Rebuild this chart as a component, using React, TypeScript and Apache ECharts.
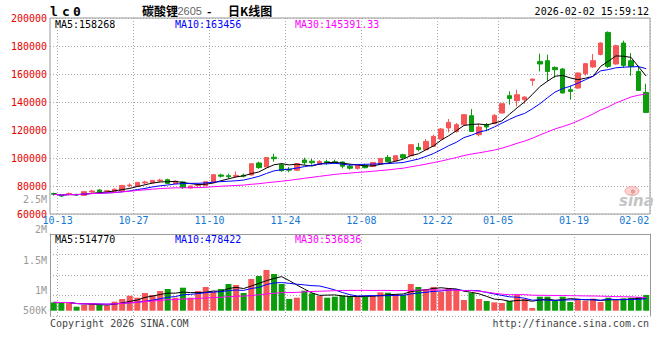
import React, { useEffect, useRef } from 'react';
import * as echarts from 'echarts';

// ---------- data ----------
const dates = ['10-13','10-14','10-15','10-16','10-17','10-20','10-21','10-22','10-23','10-24','10-27','10-28','10-29','10-30','10-31','11-03','11-04','11-05','11-06','11-07','11-10','11-11','11-12','11-13','11-14','11-17','11-18','11-19','11-20','11-21','11-24','11-25','11-26','11-27','11-28','12-01','12-02','12-03','12-04','12-05','12-08','12-09','12-10','12-11','12-12','12-15','12-16','12-17','12-18','12-19','12-22','12-23','12-24','12-25','12-26','12-29','12-30','12-31','01-05','01-06','01-07','01-08','01-09','01-12','01-13','01-14','01-15','01-16','01-19','01-20','01-21','01-22','01-23','01-26','01-27','01-28','01-29','01-30','02-02'];

const opens = [74640,73160,74140,74000,73290,75710,77140,76140,76140,76430,80210,79710,82210,82140,83640,84500,81640,82860,78570,80210,80210,82360,87860,87360,86860,87710,87860,96430,93570,100570,95210,92000,91290,98570,97710,95430,97360,97360,97140,94140,92570,94860,94000,95710,100430,97860,102360,101640,107570,105930,108290,113570,121430,119000,123790,130210,116640,123790,124500,132140,144500,140930,141640,155430,169000,169500,164710,163570,148790,150000,160210,165000,174000,189710,167140,182140,169500,161860,146860];
const closes = [74140,72870,74640,73570,75930,76430,75930,76640,77710,80430,80710,82570,82860,84000,84210,81860,83430,79000,80000,80710,83070,88070,87000,86640,87570,87000,95930,93070,100430,99500,90930,91290,95930,96640,96640,97570,96640,96790,94140,92710,95000,93070,96860,99710,97360,101640,100210,109500,106140,111860,115430,120710,125430,123790,130930,119000,122140,122140,130430,138790,142570,145210,143570,156430,167140,161860,163070,146430,147570,160710,167360,169500,182140,165430,180210,166140,165430,148290,132570];
const lows = [73070,72140,73290,73070,73070,75000,75570,75930,75930,76290,79000,79500,81140,81860,82570,81430,81430,77860,78290,79290,80000,82140,85930,85210,86140,86140,87570,92360,93430,97360,90210,89860,90710,95000,95210,95000,95210,95710,92570,91640,91640,92570,93570,95570,97140,97570,99290,101430,104710,105710,108070,113430,118290,118070,123430,118790,115430,119000,124140,131860,138070,136860,138790,151640,161860,154710,157360,146290,141640,149290,158790,164500,173290,164290,166640,164290,158790,148070,132360];
const highs = [75210,73450,75430,74500,76140,77360,77710,76860,78290,80710,81860,82860,83790,84290,85210,85210,84000,83570,80210,81860,83290,88290,88790,88790,90430,88790,96140,97360,100710,103070,96290,93570,96140,100210,99500,98430,98790,98790,97570,95210,95710,95930,97140,100000,102140,101860,103070,109710,110710,113570,116640,121430,127860,125000,131290,135000,124500,125000,131290,139140,147570,148790,144000,156430,174500,173790,165430,164290,151640,161140,167710,174290,182570,190430,180930,183790,175000,165930,153070];
const volumes = [333000,320000,333000,160000,227000,293000,227000,200000,360000,467000,600000,520000,707000,627000,787000,867000,520000,920000,520000,787000,947000,760000,867000,1067000,1027000,707000,1267000,1387000,1627000,1467000,1067000,467000,520000,800000,693000,587000,520000,560000,600000,560000,587000,560000,587000,733000,720000,667000,627000,1067000,947000,867000,947000,760000,907000,867000,427000,707000,467000,387000,333000,307000,387000,627000,467000,107000,560000,560000,387000,560000,347000,467000,387000,480000,347000,520000,413000,493000,520000,547000,627000];

const xLabelDates = ['10-13','10-27','11-10','11-24','12-08','12-22','01-05','01-19','02-02'];
const priceTicks = { min: 60000, max: 200000, step: 20000 };
const volLabelTicks = { min: 500000, max: 2500000, step: 500000 };

const titleName = '碳酸锂';
const titleCode = '2605';
const titleTail = '日K线图';
const symbolText = ['l', 'c', '0'];
const timeText = '2026-02-02 15:59:12';
const priceMaTexts = ['MA5:158268', 'MA10:163456', 'MA30:145391.33'];
const volMaTexts = ['MA5:514770', 'MA10:478422', 'MA30:536836'];
const copyrightText = 'Copyright 2026 SINA.COM';
const urlText = 'http://finance.sina.com.cn';

// ---------- style ----------
const RED = '#f65656';
const GREEN = '#0c9c0c';
const MA_COLORS = ['#000000', '#0000ff', '#ff00ff'];
const GRID_LINE = '#aaaaaa';
const BORDER = '#999999';
const MONO = '"DejaVu Sans Mono", "Liberation Mono", monospace';
const CJK = '"Noto Sans CJK SC", sans-serif';

function movingAvg(arr: number[], n: number): number[] {
  return arr.map((_, i) => {
    const s = Math.max(0, i - n + 1);
    let sum = 0;
    for (let k = s; k <= i; k++) sum += arr[k];
    return Math.round((sum / (i - s + 1)) * 100) / 100;
  });
}

export default function App() {
  const ref = useRef<HTMLDivElement>(null);

  useEffect(() => {
    document.body.style.margin = '0';
    if (!ref.current) return;
    const chart = echarts.init(ref.current, null, { renderer: 'svg' });

    const labelIdx = new Set(xLabelDates.map((d) => dates.indexOf(d)));
    const lastIdx = dates.length - 1;
    const kData = dates.map((_, i) => [opens[i], closes[i], lows[i], highs[i]]);
    const volData = volumes.map((v, i) => ({
      value: v,
      itemStyle: { color: closes[i] >= opens[i] ? RED : GREEN },
    }));
    const periods = [5, 10, 30];
    const dotted = { color: GRID_LINE, type: [1, 2] as any, width: 1 };

    const txt = (x: number, y: number, text: string, fill: string, font: string, align = 'left') => ({
      type: 'text',
      x,
      y,
      z: 100,
      style: { text, fill, font, align, verticalAlign: 'middle' },
    });

    const option: any = {
      animation: false,
      backgroundColor: '#ffffff',
      grid: [
        { left: 50, top: 18, width: 600, height: 196, show: true, borderColor: BORDER, borderWidth: 1, backgroundColor: 'transparent' },
        { left: 50, top: 234, width: 600, height: 82 },
        { left: 50, top: 199.5, width: 600, height: 121.4 },
      ],
      xAxis: [
        {
          type: 'category',
          gridIndex: 0,
          data: dates,
          boundaryGap: true,
          axisLine: { show: false },
          axisTick: { show: false },
          splitLine: { show: true, interval: (i: number) => labelIdx.has(i - 1), lineStyle: dotted },
          axisLabel: {
            interval: (i: number) => labelIdx.has(i),
            margin: 1,
            formatter: (v: string, i: number) => (i === lastIdx ? `{r|${v}}` : `{n|${v}}`),
            rich: {
              n: { padding: [0, 0, 0, 7.6], fontFamily: MONO, fontSize: 10, color: '#1478d2' },
              r: { padding: [0, 24, 0, 0], fontFamily: MONO, fontSize: 10, color: '#1478d2' },
            },
          },
        },
        {
          type: 'category',
          gridIndex: 1,
          data: dates,
          boundaryGap: true,
          position: 'top',
          axisLine: { show: true, onZero: false, lineStyle: { color: BORDER, width: 1 } },
          axisTick: { show: false },
          axisLabel: { show: false },
          splitLine: { show: true, interval: (i: number) => labelIdx.has(i - 1), lineStyle: dotted },
        },
        { type: 'value', gridIndex: 2, min: 0, max: 1, show: false },
      ],
      yAxis: [
        {
          type: 'value',
          gridIndex: 0,
          min: priceTicks.min,
          max: priceTicks.max,
          interval: priceTicks.step,
          axisLine: { show: false },
          axisTick: { show: false },
          splitLine: { show: true, lineStyle: dotted },
          axisLabel: {
            showMinLabel: true,
            showMaxLabel: true,
            margin: 3,
            padding: [0, 0, 5, 0],
            color: '#e60000',
            fontFamily: MONO,
            fontSize: 10,
            formatter: (v: number) => String(v),
          },
        },
        {
          type: 'value',
          gridIndex: 1,
          min: -212000,
          max: 3068000,
          axisLine: { show: true, onZero: false, lineStyle: { color: BORDER, width: 1 } },
          axisTick: { show: false },
          axisLabel: { show: false },
          splitLine: { show: false },
        },
        {
          type: 'value',
          gridIndex: 1,
          position: 'right',
          inverse: true,
          min: 0,
          max: 4,
          interval: 1,
          axisLine: { show: true, onZero: false, lineStyle: { color: BORDER, width: 1 } },
          axisTick: { show: false },
          axisLabel: { show: false },
          splitLine: { show: true, lineStyle: dotted },
        },
        {
          type: 'value',
          gridIndex: 2,
          min: volLabelTicks.min,
          max: volLabelTicks.max,
          interval: volLabelTicks.step,
          axisLine: { show: false },
          axisTick: { show: false },
          splitLine: { show: false },
          axisLabel: {
            showMinLabel: true,
            showMaxLabel: true,
            margin: 3,
            formatter: (v: number) => (v >= 1e6 ? `{a|${v / 1e6}M}` : `{b|${v / 1000}K}`),
            rich: {
              a: { fontFamily: MONO, fontSize: 10, color: '#9a9a9a' },
              b: { fontFamily: MONO, fontSize: 10, color: '#9a9a9a', padding: [0, 0, 20, 0] },
            },
          },
        },
      ],
      series: [
        {
          type: 'candlestick',
          xAxisIndex: 0,
          yAxisIndex: 0,
          data: kData,
          barWidth: 5,
          itemStyle: { color: RED, color0: GREEN, borderColor: RED, borderColor0: GREEN, borderWidth: 1 },
        },
        ...periods.map((p, k) => ({
          type: 'line',
          xAxisIndex: 0,
          yAxisIndex: 0,
          data: movingAvg(closes, p),
          showSymbol: false,
          smooth: false,
          lineStyle: { color: MA_COLORS[k], width: 1 },
          z: 3,
        })),
        {
          type: 'bar',
          xAxisIndex: 1,
          yAxisIndex: 1,
          data: volData,
          barWidth: 6,
        },
        ...periods.map((p, k) => ({
          type: 'line',
          xAxisIndex: 1,
          yAxisIndex: 1,
          data: movingAvg(volumes, p),
          showSymbol: false,
          smooth: false,
          lineStyle: { color: MA_COLORS[k], width: 1 },
          z: 3,
        })),
      ],
      graphic: [
        txt(50, 11, symbolText[0], '#000', `bold 13px ${MONO}`),
        txt(62, 11, symbolText[1], '#000', `bold 13px ${MONO}`),
        txt(73, 11, symbolText[2], '#000', `bold 13px ${MONO}`),
        txt(142, 10.5, titleName, '#000', `bold 12px ${CJK}`),
        txt(177.5, 11, titleCode, '#666', '11px "Liberation Sans", sans-serif'),
        txt(207, 10.5, '-', '#000', `bold 12px ${CJK}`),
        txt(228, 10.5, titleTail, '#000', `bold 12px ${CJK}`),
        txt(649, 11.5, timeText, '#000', `10px ${MONO}`, 'right'),
        txt(55, 24, priceMaTexts[0], MA_COLORS[0], `10px ${MONO}`),
        txt(175, 24, priceMaTexts[1], MA_COLORS[1], `10px ${MONO}`),
        txt(295, 24, priceMaTexts[2], MA_COLORS[2], `10px ${MONO}`),
        txt(55, 239.5, volMaTexts[0], MA_COLORS[0], `10px ${MONO}`),
        txt(175, 239.5, volMaTexts[1], MA_COLORS[1], `10px ${MONO}`),
        txt(295, 239.5, volMaTexts[2], MA_COLORS[2], `10px ${MONO}`),
        txt(50, 323.5, copyrightText, '#444', `10px ${MONO}`),
        txt(649, 323.5, urlText, '#444', `10px ${MONO}`, 'right'),
        {
          type: 'ellipse',
          z: 90,
          shape: { cx: 632, cy: 191, rx: 7, ry: 4.5 },
          style: { fill: '#fbd3d3', stroke: '#f3a6a6', lineWidth: 1 },
        },
        {
          type: 'circle',
          z: 91,
          shape: { cx: 633, cy: 191.5, r: 2.2 },
          style: { fill: '#ee9a9a' },
        },
        txt(619, 200.5, 'sina', '#c4c4c4', 'italic bold 15px "DejaVu Sans", sans-serif'),
      ],
    };

    chart.setOption(option);
    return () => chart.dispose();
  }, []);

  return <div ref={ref} style={{ width: 660, height: 360 }} />;
}
